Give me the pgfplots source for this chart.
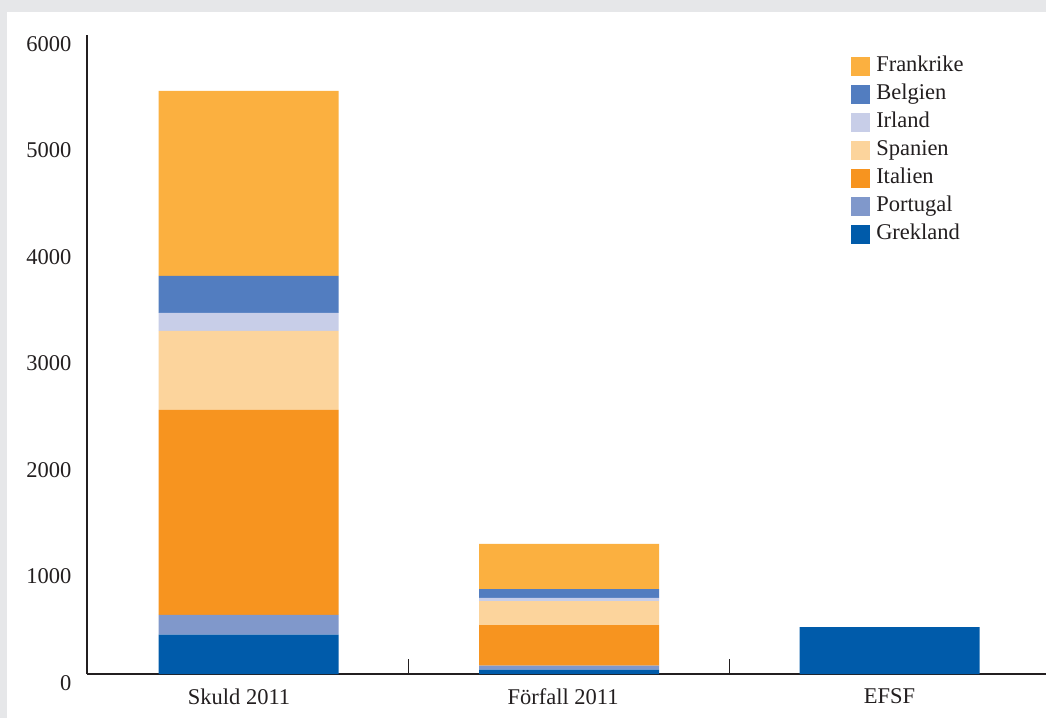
\documentclass[border=0pt]{standalone}
\usepackage{pgfplots}
\pgfplotsset{compat=1.18}
\usepackage{fontspec}
\setmainfont{Liberation Serif}
\definecolor{cFr}{HTML}{FBB040}
\definecolor{cBe}{HTML}{527DC0}
\definecolor{cIr}{HTML}{C8CEE8}
\definecolor{cSp}{HTML}{FCD49C}
\definecolor{cIt}{HTML}{F7941F}
\definecolor{cPo}{HTML}{8098CB}
\definecolor{cGr}{HTML}{005BAA}
\definecolor{bggray}{HTML}{E6E7E9}
\definecolor{axgray}{HTML}{231F20}
\pgfplotsset{sqlegend/.style={legend image code/.code={\fill[##1] (0pt,-9.5pt) rectangle (19pt,9.5pt);}}}
\begin{document}
\fontsize{22.5}{27}\selectfont
\begin{tikzpicture}
\fill[bggray] (-87pt,-44pt) rectangle (959pt,674pt);
\fill[white] (-80pt,-44pt) rectangle (959pt,662pt);
\begin{axis}[
  at={(0pt,0pt)}, anchor=south west,
  scale only axis, width=959pt, height=639pt,
  xmin=-0.504, xmax=2.488, ymin=0, ymax=6000,
  axis x line=bottom, axis y line=left,
  axis line style={-, draw=axgray, line width=2pt},
  xtick={0,1,2}, xticklabels={Skuld 2011\kern19pt\relax, Förfall 2011\kern12pt\relax, EFSF},
  ytick={0,1000,...,6000},
  major tick length=0pt,
  extra x ticks={0.5,1.5}, extra x tick labels={},
  extra x tick style={tick align=inside, major tick length=15pt, major tick style={draw=axgray, line width=1.2pt}},
  /pgf/number format/assume math mode=true,
  /pgf/number format/1000 sep={},
  tick label style={text=axgray},
  yticklabel style={xshift=-8pt, yshift=-9pt},
  xticklabel style={yshift=-7pt},
  ybar stacked, bar width=180pt,
  reverse legend,
  legend cell align=left,
  legend style={draw=none, fill=none, inner sep=0pt, at={(0.7967,0.9676)}, anchor=north west,
    nodes={inner sep=1pt, text height=15pt, text depth=4.5pt, text=axgray},
    row sep=6.5pt, column sep=5pt},
]
\addplot[fill=cGr, draw=none, sqlegend] coordinates {(0,370) (1,40) (2,440)};
\addplot[fill=cPo, draw=none, sqlegend] coordinates {(0,185) (1,38) (2,0)};
\addplot[fill=cIt, draw=none, sqlegend] coordinates {(0,1925) (1,382) (2,0)};
\addplot[fill=cSp, draw=none, sqlegend] coordinates {(0,742) (1,225) (2,0)};
\addplot[fill=cIr, draw=none, sqlegend] coordinates {(0,169) (1,29) (2,0)};
\addplot[fill=cBe, draw=none, sqlegend] coordinates {(0,347) (1,84) (2,0)};
\addplot[fill=cFr, draw=none, sqlegend] coordinates {(0,1737) (1,423) (2,0)};
\legend{Grekland, Portugal, Italien, Spanien, Irland, Belgien, Frankrike}
\end{axis}
\pgfresetboundingbox
\path[use as bounding box] (-87pt,-44pt) rectangle (959pt,674pt);
\end{tikzpicture}
\end{document}
